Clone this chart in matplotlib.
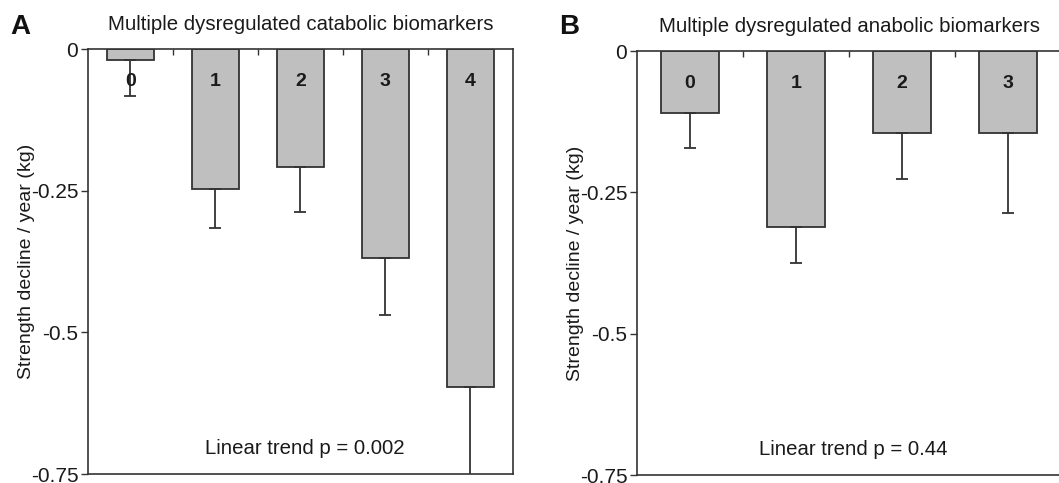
import matplotlib.pyplot as plt

plt.rcParams['font.family'] = ['Liberation Sans', 'DejaVu Sans']

cat_labels = ['0', '1', '2', '3', '4']
cat_values = [-0.019, -0.247, -0.207, -0.368, -0.597]
cat_err = [0.063, 0.069, 0.081, 0.101, 0.17]

ana_labels = ['0', '1', '2', '3']
ana_values = [-0.110, -0.312, -0.145, -0.145]
ana_err = [0.062, 0.063, 0.081, 0.141]

y_ticks = [0, -0.25, -0.5, -0.75]
y_ticklabels = ['0', '-0.25', '-0.5', '-0.75']

line_col = '#333333'
bar_col = '#bfbfbf'
text_col = '#1a1a1a'

fig = plt.figure(figsize=(10.59, 4.83), dpi=100)
ax1 = fig.add_axes([0.0831, 0.0186, 0.401, 0.879])
ax2 = fig.add_axes([0.6015, 0.0165, 0.4004, 0.8777])


def draw_panel(ax, labels, values, err, title, letter, trend, letter_x):
    n = len(labels)
    xs = [i + 0.5 for i in range(n)]
    ax.bar(xs, values, width=0.55, color=bar_col, edgecolor=line_col,
           linewidth=1.3, zorder=2)
    lower = [e for e in err]
    upper = [0 for e in err]
    ax.errorbar(xs, values, yerr=[lower, upper], fmt='none', ecolor=line_col,
                elinewidth=1.3, capsize=4, capthick=1.3, zorder=3)
    for x, lab in zip(xs, labels):
        ax.text(x, -0.057, lab, ha='center', va='center', fontsize=14,
                fontweight='bold', color=text_col, zorder=4)
    ax.set_xlim(0, n)
    ax.set_ylim(-0.75, 0)
    ax.set_yticks(y_ticks)
    ax.set_yticklabels(y_ticklabels, fontsize=15, color=text_col)
    ax.set_xticks(range(1, n))
    ax.xaxis.set_ticks_position('top')
    ax.tick_params(axis='x', direction='in', length=4, width=1,
                   color=line_col, labeltop=False, labelbottom=False)
    ax.tick_params(axis='y', direction='out', length=5, width=1,
                   color=line_col, pad=2)
    for s in ax.spines.values():
        s.set_color(line_col)
        s.set_linewidth(1.2)
    ax.set_ylabel('Strength decline / year (kg)', fontsize=14,
                  color=text_col, labelpad=-3)
    ax.set_title(title, fontsize=14.7, color=text_col, pad=14)
    ax.text(0.51, 0.06, trend, transform=ax.transAxes, ha='center',
            va='center', fontsize=14.7, color=text_col)
    fig.text(letter_x, 0.945, letter, fontsize=20, fontweight='bold',
             ha='left', va='center', color='#111111')


draw_panel(ax1, cat_labels, cat_values, cat_err,
           'Multiple dysregulated catabolic biomarkers', 'A',
           'Linear trend p = 0.002', 0.010)
draw_panel(ax2, ana_labels, ana_values, ana_err,
           'Multiple dysregulated anabolic biomarkers', 'B',
           'Linear trend p = 0.44', 0.528)

fig.savefig('out.png', dpi=100)
